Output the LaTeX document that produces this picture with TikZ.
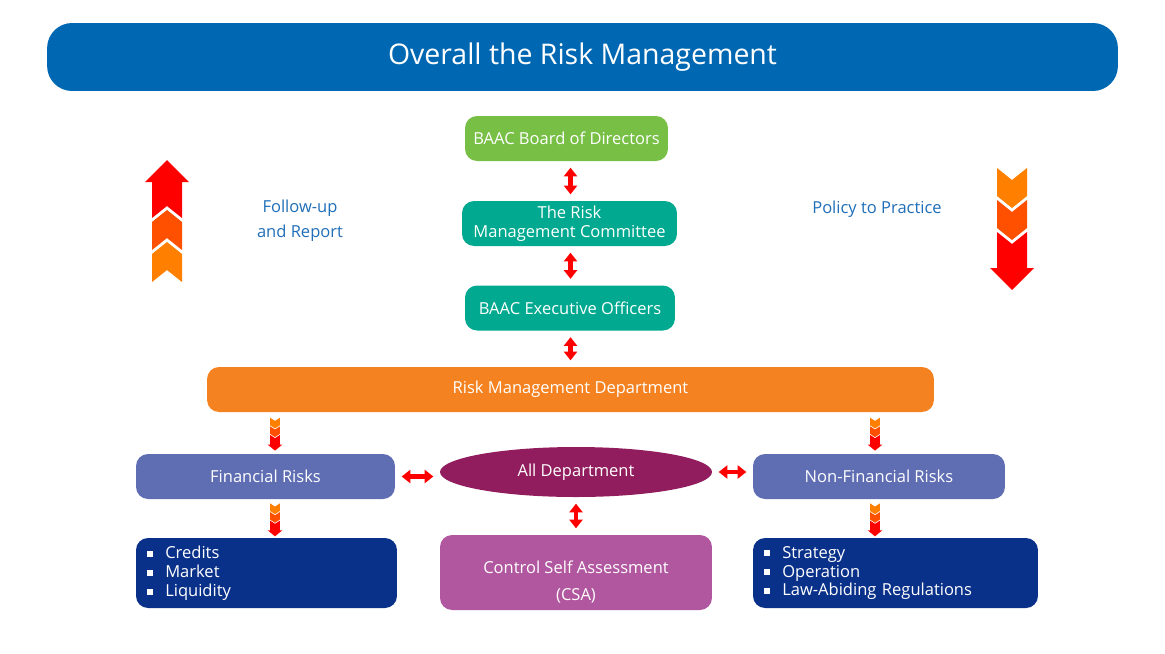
\documentclass[tikz,border=0pt]{standalone}
\usepackage{fontspec}
\setmainfont{Open Sans}
\usetikzlibrary{arrows.meta,positioning,calc,shapes.geometric}
\definecolor{titleBlue}{HTML}{0067B2}
\definecolor{boardGreen}{HTML}{77BF45}
\definecolor{commTeal}{HTML}{00A98F}
\definecolor{deptOrange}{HTML}{F58220}
\definecolor{riskSlate}{HTML}{5F6DB3}
\definecolor{allPlum}{HTML}{921D5E}
\definecolor{listNavy}{HTML}{0A3189}
\definecolor{csaPink}{HTML}{B1579F}
\definecolor{sideBlue}{HTML}{1F6EB8}
\definecolor{chevA}{HTML}{FF8000}
\definecolor{chevB}{HTML}{FF5000}
\definecolor{chevC}{HTML}{FF0000}
\newcommand{\bul}{\rule[0.2ex]{3.4pt}{3.4pt}\hspace{7pt}}
\tikzset{
  chevstack/.pic={
    \fill[chevA] (-15,0) -- (0,12) -- (15,0) -- (15,28) -- (0,40) -- (-15,28) -- cycle;
    \fill[chevB] (-15,32) -- (0,44) -- (15,32) -- (15,60) -- (0,72) -- (-15,60) -- cycle;
    \fill[chevC] (-15,64) -- (0,76) -- (15,64) -- (15,100) -- (22,100) -- (0,122) -- (-22,100) -- (-15,100) -- cycle;
  }
}

\begin{document}
\begin{tikzpicture}[x=0.02cm,y=-0.02cm,font=\fontsize{9.4}{10.8}\selectfont,
  box/.style={rounded corners=0.24cm,text=white,align=center,minimum height=0.9cm,inner sep=2pt},
  list/.style={box,align=left,minimum height=1.4cm,inner xsep=0.22cm},
  dblarr/.style={draw=chevC,line width=2.4pt,{Triangle[width=7.5pt,length=5pt]}-{Triangle[width=7.5pt,length=5pt]},shorten >=3.6pt,shorten <=3.6pt},
  smallchev/.style={xscale=0.33,yscale=0.27},
  side/.style={text=sideBlue,align=center}]
\useasboundingbox (0,0) rectangle (1165,653);
\node[box,fill=titleBlue,rounded corners=0.5cm,minimum width=21.42cm,minimum height=1.36cm,font=\fontsize{16.2}{19}\selectfont] (title) at (582.5,57) {Overall the Risk Management};
\node[box,fill=boardGreen,minimum width=4.06cm] (board) at (566.5,138.5) {BAAC Board of Directors};
\node[box,fill=commTeal,minimum width=4.3cm] (rmc) at (569.5,223.5) {The Risk\\Management Committee};
\node[box,fill=commTeal,minimum width=4.2cm] (exec) at (570,308) {BAAC Executive Officers};
\node[box,fill=deptOrange,minimum width=14.54cm] (rmd) at (570.5,389.5) {Risk Management Department};
\node[box,fill=riskSlate,minimum width=5.18cm] (fin) at (265.5,476.5) {Financial Risks};
\node[ellipse,fill=allPlum,text=white,minimum width=5.44cm,minimum height=1cm,inner sep=0pt] (alld) at (576,472) {All Department};
\node[box,fill=riskSlate,minimum width=5.04cm] (nonfin) at (879,476.5) {Non-Financial Risks};
\node[list,fill=listNavy,text width=4.78cm] (fintypes) at (266.5,573) {\bul Credits\\\bul Market\\\bul Liquidity};
\node[box,fill=csaPink,minimum width=5.44cm,minimum height=1.5cm] (csa) at (576,572.5) {\rule{0pt}{18pt}Control Self Assessment\\[5pt](CSA)};
\node[list,fill=listNavy,text width=5.26cm] (nonfintypes) at (895.5,573) {\bul Strategy\\\bul Operation\\\bul Law-Abiding Regulations};
\node[side] (follow) at (300,221) {Follow-up\\[3.4pt]and Report};
\node[side] (policy) at (877,209) {Policy to Practice};
% big arrows at the sides
\pic[yscale=-1] at (167,282) {chevstack};
\pic at (1012,168) {chevstack};
% links
\draw[dblarr] (board.south -| rmd.north) -- (rmc.north -| rmd.north);
\draw[dblarr] (rmc.south -| rmd.north) -- (exec.north -| rmd.north);
\draw[dblarr] (exec.south -| rmd.north) -- (rmd.north);
\draw[dblarr] (fin.east) -- (fin.east -| alld.west);
\draw[dblarr] (alld.east) -- (alld.east -| nonfin.west);
\draw[dblarr] (alld.south) -- (alld.south |- csa.north);
\pic[smallchev] at ($(fin.north)+(9.5,-36)$) {chevstack};
\pic[smallchev] at ($(nonfin.north)+(-4,-36)$) {chevstack};
\pic[smallchev] at ($(fin.south)+(9.5,4)$) {chevstack};
\pic[smallchev] at ($(nonfin.south)+(-4,4)$) {chevstack};
\end{tikzpicture}
\end{document}
